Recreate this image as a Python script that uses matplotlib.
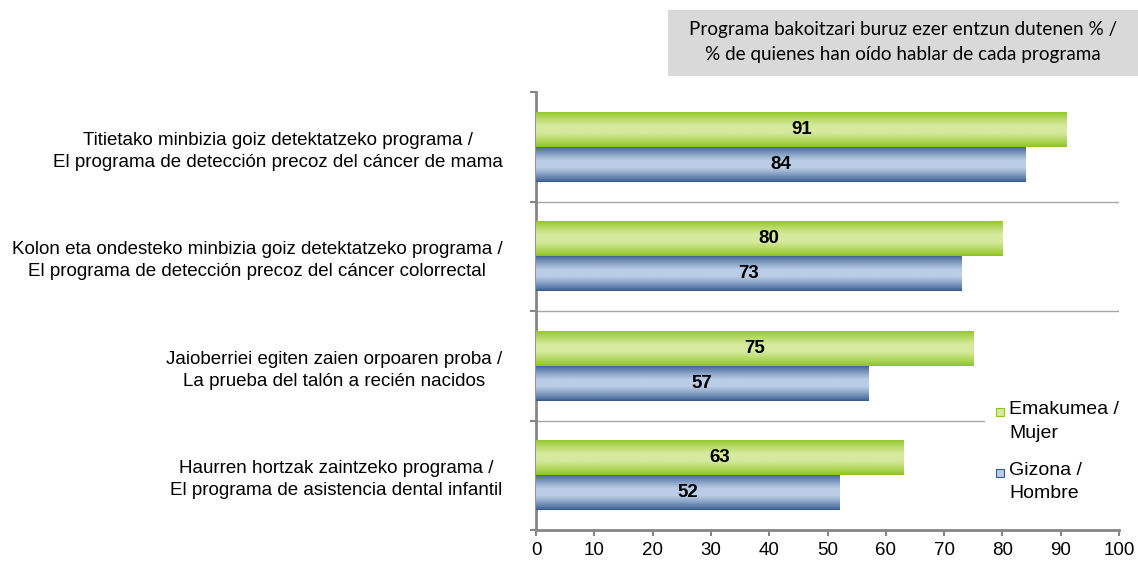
import numpy as np
import matplotlib
matplotlib.use("Agg")
import matplotlib.pyplot as plt
from matplotlib.patches import Rectangle
from matplotlib.colors import to_rgb

categories = [
    "Titietako minbizia goiz detektatzeko programa /\nEl programa de detección precoz del cáncer de mama",
    "Kolon eta ondesteko minbizia goiz detektatzeko programa /\nEl programa de detección precoz del cáncer colorrectal",
    "Jaioberriei egiten zaien orpoaren proba /\nLa prueba del talón a recién nacidos",
    "Haurren hortzak zaintzeko programa /\nEl programa de asistencia dental infantil",
]
mujer = [91, 80, 75, 63]
hombre = [84, 73, 57, 52]
series_labels = ["Emakumea /\nMujer", "Gizona /\nHombre"]
title_text = "Programa bakoitzari buruz ezer entzun dutenen % /\n% de quienes han oído hablar de cada programa"
xticks = list(range(0, 101, 10))

plt.rcParams['font.family'] = ['Liberation Sans', 'DejaVu Sans']

W, H = 1138, 561
fig = plt.figure(figsize=(W / 100, H / 100), dpi=100)
ax = fig.add_axes([536 / W, 1 - 530 / H, (1119 - 536) / W, (530 - 92) / H])

y = np.arange(len(categories))
bh = 0.32
green_dark, green_light = to_rgb("#8CC31C"), to_rgb("#D6EA9E")
blue_dark, blue_light = to_rgb("#365A8F"), to_rgb("#BACDE6")


def gradient(dark, light, n=100):
    t = np.linspace(0, 1, n)
    s = np.clip((1 - np.abs(2 * t - 1)) / 0.8, 0, 1)
    g = s ** 0.85
    d = np.array(dark)
    l = np.array(light)
    img = d[None, :] + (l - d)[None, :] * g[:, None]
    return img[:, None, :]


bars_g = ax.barh(y - bh / 2, mujer, height=bh, color=green_light, edgecolor="none", zorder=2)
bars_b = ax.barh(y + bh / 2, hombre, height=bh, color=blue_light, edgecolor="none", zorder=2)

for bars, dark, light in [(bars_g, green_dark, green_light), (bars_b, blue_dark, blue_light)]:
    img = gradient(dark, light)
    for b in bars:
        x0, y0 = b.get_x(), b.get_y()
        w, h = b.get_width(), b.get_height()
        im = ax.imshow(img, extent=(x0, x0 + w, y0 + h, y0), aspect="auto",
                       interpolation="bilinear", zorder=3)
        im.set_clip_path(b)

for bars, vals in [(bars_g, mujer), (bars_b, hombre)]:
    for b, v in zip(bars, vals):
        ax.text(v / 2, b.get_y() + b.get_height() / 2, f"{v}", ha="center", va="center",
                fontsize=13.5, fontweight="bold", color="black", zorder=5)

ax.set_xlim(0, 100)
ax.set_ylim(len(categories) - 0.5, -0.5)

ax.set_xticks(xticks)
ax.set_xticklabels([str(t) for t in xticks], fontsize=13.5)
ax.tick_params(axis="x", direction="out", length=4.5, width=1.5, color="#868686", pad=4)

ax.set_yticks(y)
ax.set_yticklabels(categories, fontsize=13.5, multialignment="center", linespacing=1.4)
ax.tick_params(axis="y", which="major", length=0, pad=24)
ax.set_yticks(np.arange(-0.5, len(categories) + 0.5, 1), minor=True)
ax.tick_params(axis="y", which="minor", direction="out", length=4.5, width=1.5, color="#868686")

for yy in np.arange(0.5, len(categories) - 0.5, 1):
    ax.axhline(yy, color="#A6A6A6", lw=1, zorder=1)

for s in ["top", "right"]:
    ax.spines[s].set_visible(False)
for s in ["left", "bottom"]:
    ax.spines[s].set_color("#868686")
    ax.spines[s].set_linewidth(2)

# legend (white background covering the grid)
fig.patches.append(Rectangle((985 / W, 1 - 520 / H), 150 / W, 125 / H, transform=fig.transFigure,
                             facecolor="white", edgecolor="none", zorder=4))
leg_items = [(series_labels[0], green_dark, green_light, 412),
             (series_labels[1], blue_dark, blue_light, 473)]
for lab, dark, light, yp in leg_items:
    fig.patches.append(Rectangle((996 / W, 1 - (yp + 4) / H), 8 / W, 8 / H, transform=fig.transFigure,
                                 facecolor=light, edgecolor=dark, lw=0.8, zorder=5))
    fig.text(1009 / W, 1 - (yp - 11) / H, lab, ha="left", va="top", fontsize=14,
             linespacing=1.5, zorder=6)

# title box
fig.patches.append(Rectangle((668 / W, 1 - 76 / H), (W - 668) / W, 66 / H, transform=fig.transFigure,
                             facecolor="#D9D9D9", edgecolor="none", zorder=1))
fig.text(903 / W, 1 - 42 / H, title_text, ha="center", va="center", fontsize=13.6,
         family=["Lato", "DejaVu Sans"], linespacing=1.55, zorder=2)

fig.savefig("out.png", dpi=100)
